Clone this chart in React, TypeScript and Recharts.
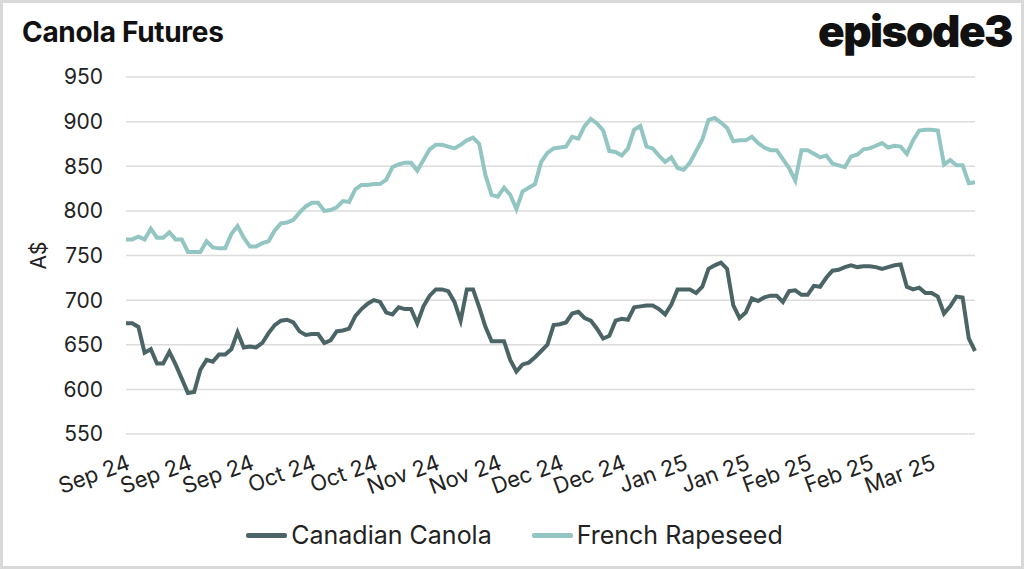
import React from 'react';
import {
  LineChart,
  Line,
  XAxis,
  YAxis,
  CartesianGrid,
  Legend,
} from 'recharts';

const FONT = 'Inter, "Noto Sans", sans-serif';

// one label every 10 trading days, starting Sep 2 2024
const tickLabels = [
  'Sep 24', 'Sep 24', 'Sep 24', 'Oct 24', 'Oct 24', 'Nov 24', 'Nov 24',
  'Dec 24', 'Dec 24', 'Jan 25', 'Jan 25', 'Feb 25', 'Feb 25', 'Mar 25',
];

const yTicks = [550, 600, 650, 700, 750, 800, 850, 900, 950];

// A$ per tonne, daily
const canadianCanola = [
  674, 674, 670, 641, 645, 629, 629, 642, 628, 612,
  596, 597, 622, 633, 631, 639, 639, 645, 664, 647,
  648, 647, 652, 663, 672, 677, 678, 675, 665, 661,
  662, 662, 652, 655, 665, 666, 668, 682, 690, 696,
  700, 698, 686, 684, 692, 690, 690, 674, 693, 705,
  712, 712, 710, 698, 677, 712, 712, 692, 670, 654,
  654, 654, 633, 620, 628, 630, 636, 643, 650, 672,
  673, 675, 685, 687, 680, 677, 668, 657, 660, 677,
  679, 678, 692, 693, 694, 694, 690, 684, 695, 712,
  712, 712, 708, 715, 735, 739, 742, 735, 694, 680,
  686, 702, 699, 703, 705, 705, 698, 710, 711, 706,
  706, 716, 715, 725, 733, 734, 737, 739, 737, 738,
  738, 737, 735, 737, 739, 740, 715, 712, 714, 708,
  708, 704, 685, 693, 704, 703, 657, 643,
];

const frenchRapeseed = [
  768, 768, 771, 768, 780, 770, 770, 776, 768, 768,
  754, 754, 754, 766, 759, 758, 758, 774, 783, 770,
  760, 760, 764, 766, 778, 786, 787, 790, 798, 805,
  809, 809, 800, 801, 804, 811, 810, 824, 829, 829,
  830, 830, 835, 849, 852, 854, 854, 845, 857, 869,
  874, 874, 872, 870, 874, 879, 882, 875, 840, 818,
  816, 826, 818, 802, 822, 826, 830, 855, 865, 870,
  871, 872, 883, 881, 895, 903, 898, 890, 867, 866,
  862, 870, 891, 895, 872, 870, 862, 855, 860, 848,
  846, 854, 867, 880, 902, 904, 899, 893, 878, 879,
  879, 883, 876, 871, 868, 868, 858, 848, 834, 868,
  868, 864, 860, 862, 853, 851, 849, 861, 863, 869,
  870, 873, 876, 871, 873, 872, 864, 879, 890, 891,
  891, 890, 852, 857, 851, 851, 831, 832,
];

const data = canadianCanola.map((v, i) => ({
  day: i,
  canola: v,
  rapeseed: frenchRapeseed[i],
}));

const xTicks = tickLabels.map((_, i) => i * 10);

const renderLegend = (props: any) => {
  const { payload } = props;
  return (
    <div
      style={{
        display: 'flex',
        justifyContent: 'center',
        alignItems: 'center',
        height: 40,
        gap: 40,
        paddingLeft: 34,
        fontFamily: FONT,
        fontSize: 25,
        color: '#222',
      }}
    >
      {payload.map((entry: any) => (
        <span key={entry.value} style={{ display: 'flex', alignItems: 'center' }}>
          <span
            style={{
              display: 'inline-block',
              width: 41,
              height: 5,
              borderRadius: 2,
              background: entry.color,
              marginRight: 4,
            }}
          />
          {entry.value}
        </span>
      ))}
    </div>
  );
};

const App = () => {
  return (
    <div
      style={{
        position: 'absolute',
        left: 0,
        top: 0,
        width: 1024,
        height: 569,
        background: '#fff',
        fontFamily: FONT,
      }}
    >
      <LineChart
        width={1024}
        height={569}
        data={data}
        margin={{ top: 77, right: 49, left: 20, bottom: 14 }}
      >
        <CartesianGrid vertical={false} stroke="#dcdcdc" strokeWidth={1.5} />
        <XAxis
          dataKey="day"
          type="number"
          domain={[0, canadianCanola.length - 1]}
          ticks={xTicks}
          tickFormatter={(v: number) => tickLabels[v / 10]}
          axisLine={false}
          tickLine={false}
          height={81}
          interval={0}
          tickMargin={14}
          tick={{ angle: -20, textAnchor: 'end', fontSize: 22, fill: '#222', fontFamily: FONT }}
        />
        <YAxis
          domain={[550, 950]}
          ticks={yTicks}
          axisLine={false}
          tickLine={false}
          width={106}
          tickMargin={17}
          tick={{ fontSize: 21, fill: '#222', fontFamily: FONT }}
          label={{
            value: 'A$',
            angle: -90,
            position: 'insideLeft',
            offset: 19,
            style: { textAnchor: 'middle', fontSize: 21, fill: '#222', fontFamily: FONT },
          }}
        />
        <Legend verticalAlign="bottom" content={renderLegend} />
        <Line
          name="Canadian Canola"
          dataKey="canola"
          stroke="#4b6465"
          strokeWidth={4}
          dot={false}
          isAnimationActive={false}
        />
        <Line
          name="French Rapeseed"
          dataKey="rapeseed"
          stroke="#93c6c2"
          strokeWidth={4}
          dot={false}
          isAnimationActive={false}
        />
      </LineChart>
      <div
        style={{
          position: 'absolute',
          left: 22,
          top: 15,
          fontSize: 28,
          fontWeight: 700,
          color: '#111',
          letterSpacing: -0.3,
        }}
      >
        Canola Futures
      </div>
      <div
        style={{
          position: 'absolute',
          right: 12,
          top: 4,
          fontSize: 44,
          fontWeight: 900,
          color: '#111',
          letterSpacing: -1.5,
        }}
      >
        episode3
      </div>
      <div
        style={{
          position: 'absolute',
          inset: 0,
          border: '3px solid #d9d9d9',
          pointerEvents: 'none',
        }}
      />
    </div>
  );
};

export default App;
